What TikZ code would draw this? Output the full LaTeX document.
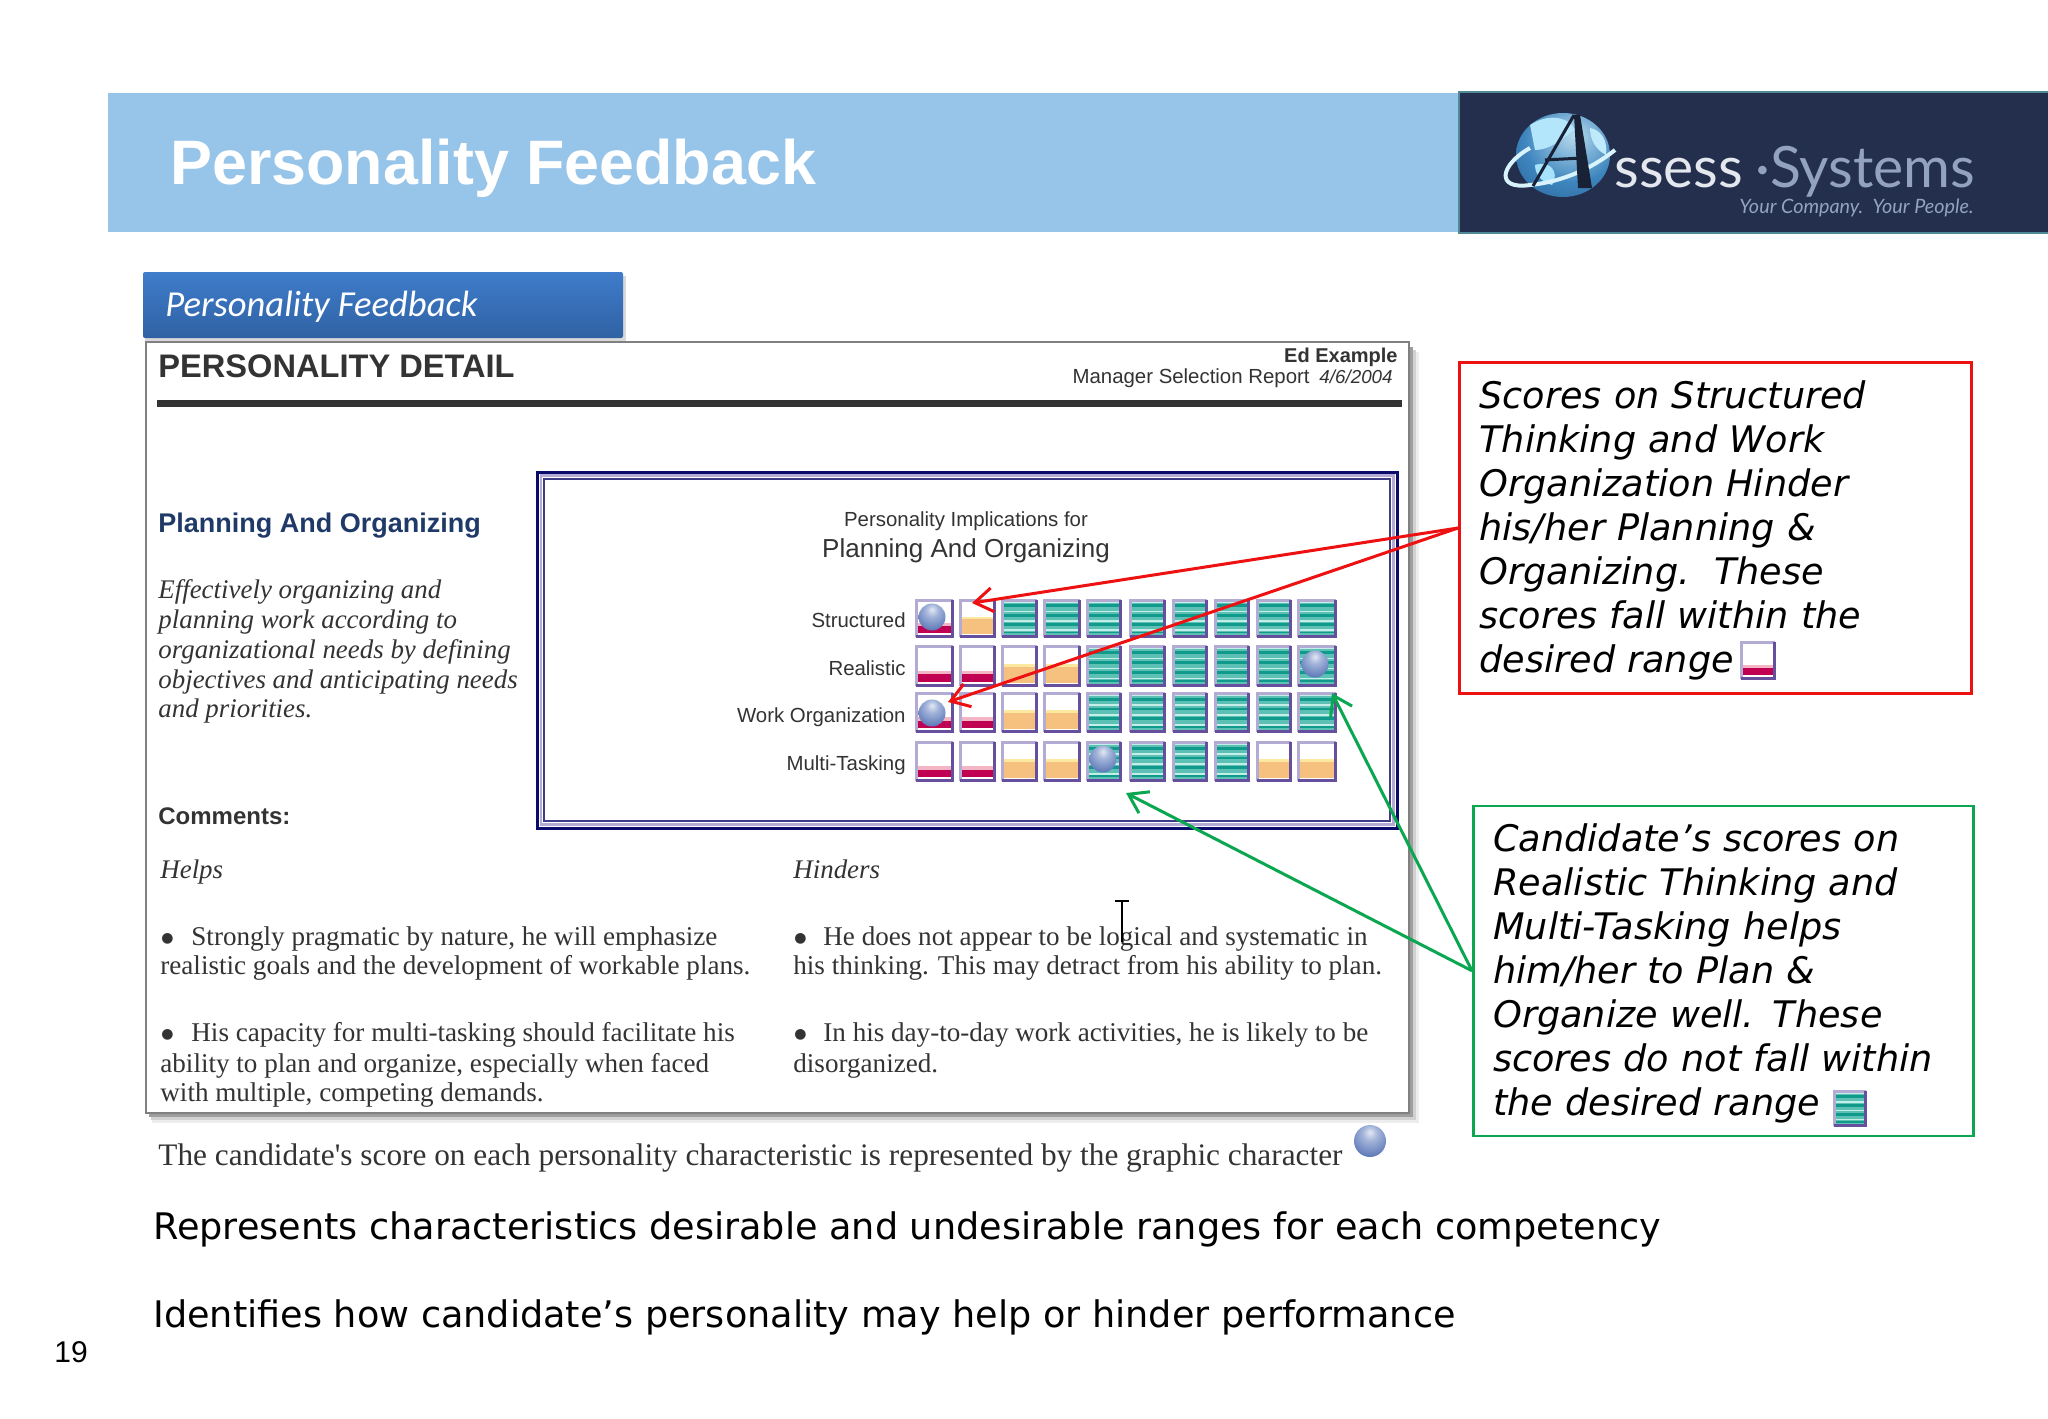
\documentclass[tikz,border=0pt]{standalone}
\usepackage{fontspec}
\usetikzlibrary{arrows.meta}
\setmainfont{Liberation Sans}
\newfontfamily\serifface{Liberation Serif}
\newfontfamily\callface{DejaVu Sans}
\newfontfamily\tabface{Carlito}
\newfontfamily\logoface{Lato}
\definecolor{headblue}{HTML}{97C4E9}
\definecolor{logonavy}{HTML}{242F4E}
\definecolor{logoedge}{HTML}{4F8A96}
\definecolor{tabtop}{HTML}{3F7CCB}
\definecolor{tabbot}{HTML}{2F62A3}
\definecolor{frameg}{HTML}{808080}
\definecolor{repink}{HTML}{333333}
\definecolor{navy}{HTML}{0B0B6B}
\definecolor{navytxt}{HTML}{1F3A68}
\definecolor{cellL}{HTML}{B3ABD3}
\definecolor{cellD}{HTML}{66509E}
\definecolor{crim}{HTML}{C00050}
\definecolor{crimL}{HTML}{F3B4C4}
\definecolor{oran}{HTML}{F6C07F}
\definecolor{oranL}{HTML}{FCE8A0}
\definecolor{tealD}{HTML}{0F9A8B}
\definecolor{tealM}{HTML}{5CC0B5}
\definecolor{tealL}{HTML}{C4EEE8}
\definecolor{redline}{HTML}{EE1111}
\definecolor{greenline}{HTML}{0AA650}
\definecolor{sysgrey}{HTML}{93A3BE}
\definecolor{ssesswhite}{HTML}{E4E8EE}
\definecolor{sphA}{HTML}{E2E8F4}
\definecolor{sphB}{HTML}{A3B4D9}
\definecolor{sphC}{HTML}{5673B4}
\definecolor{sphD}{HTML}{1B3576}
\definecolor{gloA}{HTML}{B9DCEE}
\definecolor{gloB}{HTML}{3F86BE}
\definecolor{gloC}{HTML}{174A80}
\pgfdeclareradialshading{sphereshade}{\pgfpoint{0bp}{14bp}}{
  color(0bp)=(sphA);
  color(12bp)=(sphB);
  color(36bp)=(sphC);
  color(58bp)=(sphD);
  color(100bp)=(sphD)}
\pgfdeclareradialshading{globeshade}{\pgfpoint{6bp}{12bp}}{
  color(0bp)=(gloA);
  color(25bp)=(gloB);
  color(58bp)=(gloC);
  color(100bp)=(gloC)}
\tikzset{
  rep/.style={inner sep=0pt,anchor=base west,text=repink,font=\serifface\fontsize{13.55}{16}\selectfont},
  repi/.style={rep,font=\serifface\itshape\fontsize{13.45}{16}\selectfont},
  dotted bullet/.style={rep,font=\callface\fontsize{7}{8}\selectfont},
  lab/.style={inner sep=0pt,anchor=base east,text=repink,font=\fontsize{10.2}{12}\selectfont},
  callout/.style={line width=1.5pt,fill=white,anchor=north west,align=left,inner ysep=0pt,inner xsep=0pt,
    font=\callface\itshape\fontsize{18.3}{22}\selectfont,text=black},
  arr/.style={line width=1.5pt,-{Straight Barb[length=9pt,width=12pt]}},
  bottomline/.style={inner sep=0pt,anchor=base west,text=black,font=\callface\fontsize{18.3}{22}\selectfont},
}
\newcommand{\bandR}{\fill[crimL] (8,62) rectangle (92,70);\fill[crim] (8,70) rectangle (92,88);}
\newcommand{\bandO}{\fill[oranL] (8,45) rectangle (92,52);\fill[oran] (8,52) rectangle (92,90);}
\newcommand{\bandT}{\fill[tealM] (8,5) rectangle (92,95);
  \foreach \yy in {14,38,62}{\fill[tealD] (8,\yy) rectangle (92,\yy+7);}
  \foreach \yy in {6,30,54,78}{\fill[tealL] (8,\yy) rectangle (92,\yy+4);}
  \fill[tealD] (8,84) rectangle (92,88);}
\newcommand{\scorecell}[5]{%
  \begin{scope}[shift={(#1,#3)},xscale={(#2-#1)/100},yscale={(#4-#3)/100}]
    \fill[white] (0,0) rectangle (100,100);
    \csname band#5\endcsname
    \draw[cellL,line width=1.5pt] (3,98) -- (3,3) -- (97,3);
    \draw[cellD,line width=1.7pt] (96,3) -- (96,96) -- (3,96);
  \end{scope}}
\newcommand{\ballat}[3]{\path[shading=sphereshade] (#1,#2) circle (#3);}
\begin{document}
\begin{tikzpicture}[x=0.5pt,y=-0.5pt]
\useasboundingbox (0,0) rectangle (2048,1418);
\fill[white] (0,0) rectangle (2048,1418);
% header
\fill[headblue] (108,93) rectangle (1460,232);
\node[inner sep=0pt,anchor=base west,text=white,font=\bfseries\fontsize{31.4}{36}\selectfont] (title) at (170,184) {Personality Feedback};
% logo
\fill[logonavy,draw=logoedge,line width=1pt] (1459,92) rectangle (2052,233);
\path[shading=globeshade] (1563,155) ellipse (47 and 42);
\fill[white!70!cyan] (1530,125) .. controls (1550,112) and (1570,118) .. (1575,130) .. controls (1560,140) and (1550,150) .. (1535,150) -- cycle;
\fill[white!75!cyan] (1590,128) .. controls (1602,130) and (1608,142) .. (1606,155) .. controls (1596,150) and (1590,140) .. (1590,128) -- cycle;
\fill[white!65!cyan] (1535,165) .. controls (1550,160) and (1560,172) .. (1552,185) .. controls (1542,182) and (1535,175) .. (1535,165) -- cycle;
\draw[white!85!cyan,line width=2pt] (1530,148) .. controls (1500,165) and (1495,190) .. (1530,185) .. controls (1560,182) and (1590,170) .. (1615,150);
\draw[logonavy!70!black,line width=1.5pt] (1533,186) -- (1574,115);
\fill[logonavy!70!black] (1574,115) -- (1580,115) -- (1592,188) -- (1578,188) -- cycle;
\draw[logonavy!70!black,line width=1.5pt] (1545,160) -- (1582,158);
\node[inner sep=0pt,anchor=base west,text=ssesswhite,font=\logoface\fontsize{28.5}{32}\selectfont] (logoa) at (1614,187) {ssess};
\node[inner sep=0pt,anchor=base west,text=sysgrey,font=\logoface\fontsize{28.5}{32}\selectfont] (logob) at (1755,187) {·Systems};
\node[inner sep=0pt,anchor=base east,text=sysgrey,font=\logoface\itshape\fontsize{9.9}{12}\selectfont] (logoc) at (1974,213) {Your Company.\ \ Your People.};
% report frame
\fill[black!7] (152,352) rectangle (1419,1123);
\fill[black!18] (151,350) rectangle (1416,1120);
\fill[black!38] (149,347) rectangle (1413,1117);
\fill[white,draw=frameg,line width=1.4pt] (146,342) rectangle (1409,1113);
% tab
\fill[black!15] (145,276) rectangle (626,341);
\shade[top color=tabtop,bottom color=tabbot,rounded corners=1pt] (143,272) rectangle (623,338);
\node[inner sep=0pt,anchor=base west,text=white,font=\tabface\itshape\fontsize{18.3}{20}\selectfont] (tab) at (165,316) {Personality Feedback};
% report head
\node[inner sep=0pt,anchor=base west,text=repink,font=\bfseries\fontsize{16.3}{18}\selectfont] (pd) at (158,377) {PERSONALITY DETAIL};
\fill[repink] (157,400) rectangle (1402,407);
\node[inner sep=0pt,anchor=base east,text=repink,font=\bfseries\fontsize{10}{12}\selectfont] (ed) at (1398,362) {Ed Example};
\node[inner sep=0pt,anchor=base east,text=repink,font=\fontsize{10.2}{12}\selectfont] (msr) at (1310,383) {Manager Selection Report};
\node[inner sep=0pt,anchor=base east,text=repink,font=\itshape\fontsize{9.4}{12}\selectfont] (date) at (1393,383) {4/6/2004};
% left column
\node[inner sep=0pt,anchor=base west,text=navytxt,font=\bfseries\fontsize{13.5}{16}\selectfont] (pao) at (158,532) {Planning And Organizing};
\node[repi] (p1) at (158,598) {Effectively organizing and};
\node[repi] (p2) at (158,628) {planning work according to};
\node[repi] (p3) at (158,658) {organizational needs by defining};
\node[repi] (p4) at (158,688) {objectives and anticipating needs};
\node[repi] (p5) at (158,717) {and priorities.};
% chart frame
\draw[navy,line width=1.5pt] (537.5,472) rectangle (1397,828);
\draw[cellL,line width=1.2pt] (541,475.5) rectangle (1393.5,824.5);
\draw[navy!80!white,line width=1pt] (544,479) rectangle (1390,821);
\node[inner sep=0pt,anchor=base,text=repink,font=\fontsize{10.2}{12}\selectfont] (pif) at (966,526) {Personality Implications for};
\node[inner sep=0pt,anchor=base,text=repink,font=\fontsize{13}{15}\selectfont] (paoc) at (966,557) {Planning And Organizing};
\node[lab] (r1) at (906,627) {Structured};
\node[lab] (r2) at (906,675) {Realistic};
\node[lab] (r3) at (906,722) {Work Organization};
\node[lab] (r4) at (906,770) {Multi-Tasking};
% grid
\foreach \xa/\xb [count=\c] in {915/954,959/996,1001/1038,1043/1081,1086/1122,1129/1166,1172/1208,1214/1250,1256/1292,1297/1337}{
  \ifnum\c=1 \scorecell{\xa}{\xb}{599}{638}{R}\scorecell{\xa}{\xb}{645}{687}{R}\scorecell{\xa}{\xb}{692}{733}{R}\scorecell{\xa}{\xb}{741}{782}{R}\fi
  \ifnum\c=2 \scorecell{\xa}{\xb}{599}{638}{O}\scorecell{\xa}{\xb}{645}{687}{R}\scorecell{\xa}{\xb}{692}{733}{R}\scorecell{\xa}{\xb}{741}{782}{R}\fi
  \ifnum\c>2 \ifnum\c<5 \scorecell{\xa}{\xb}{599}{638}{T}\scorecell{\xa}{\xb}{645}{687}{O}\scorecell{\xa}{\xb}{692}{733}{O}\scorecell{\xa}{\xb}{741}{782}{O}\fi\fi
  \ifnum\c>4 \scorecell{\xa}{\xb}{599}{638}{T}\scorecell{\xa}{\xb}{645}{687}{T}\scorecell{\xa}{\xb}{692}{733}{T}\ifnum\c<9 \scorecell{\xa}{\xb}{741}{782}{T}\else\scorecell{\xa}{\xb}{741}{782}{O}\fi\fi
}
\ballat{932}{617}{13.5}
\ballat{1315}{664}{13.5}
\ballat{932}{713}{13.5}
\ballat{1103}{759}{13.5}
% comments
\node[inner sep=0pt,anchor=base west,text=repink,font=\bfseries\fontsize{12}{14}\selectfont] (cm) at (158,824) {Comments:};
\node[repi] (hl) at (160,878) {Helps};
\node[repi] (hn) at (793,878) {Hinders};
\node[dotted bullet] (a0) at (161,942) {●};
\node[rep] (a1) at (191,945) {Strongly pragmatic by nature, he will emphasize};
\node[rep] (a2) at (160,974) {realistic goals and the development of workable plans.};
\node[dotted bullet] (b0) at (161,1038) {●};
\node[rep] (b1) at (191,1041) {His capacity for multi-tasking should facilitate his};
\node[rep] (b2) at (160,1072) {ability to plan and organize, especially when faced};
\node[rep] (b3) at (160,1101) {with multiple, competing demands.};
\node[dotted bullet] (c0) at (794,942) {●};
\node[rep] (c1) at (823,945) {He does not appear to be logical and systematic in};
\node[rep] (c2) at (793,974) {his thinking. This may detract from his ability to plan.};
\node[dotted bullet] (d0) at (794,1038) {●};
\node[rep] (d1) at (823,1041) {In his day-to-day work activities, he is likely to be};
\node[rep] (d2) at (793,1072) {disorganized.};
% cursor
\draw[black,line width=1pt] (1122,901) -- (1122,942);
\draw[black,line width=1pt] (1115,901) -- (1129,901);
% caption
\node[rep,font=\serifface\fontsize{15.65}{18}\selectfont] (cap) at (158,1165) {The candidate's score on each personality characteristic is represented by the graphic character};
\ballat{1370}{1141}{16}
% bottom lines
\node[bottomline] (l1) at (153,1239) {Represents characteristics desirable and undesirable ranges for each competency};
\node[bottomline] (l2) at (153,1327) {Identifies how candidate’s personality may help or hinder performance};
\node[inner sep=0pt,anchor=base west,text=black,font=\fontsize{15}{18}\selectfont] (pg) at (54,1362) {19};
% callouts
\node[callout,draw=redline,minimum width=256pt,minimum height=165.5pt,text width=236pt] (redbox) at (1458,361)
 {\rule{0pt}{16pt}Scores on Structured\\Thinking and Work\\Organization Hinder\\his/her Planning \&\\Organizing.\ \ These\\scores fall within the\\desired range};
\node[callout,draw=greenline,minimum width=250pt,minimum height=165pt,text width=230pt,line width=1.3pt] (greenbox) at (1472,804.5)
 {\rule{0pt}{16pt}Candidate’s scores on\\Realistic Thinking and\\Multi-Tasking helps\\him/her to Plan \&\\Organize well. These\\scores do not fall within\\the desired range};
\scorecell{1740}{1776}{641}{680}{R}
\scorecell{1833}{1867}{1090}{1127}{T}
% connectors
\coordinate (t1) at (972,603);
\coordinate (t2) at (948,702);
\coordinate (t3) at (1126,793);
\coordinate (t4) at (1332,693);
\draw[arr,redline] (redbox.west) -- (t1);
\draw[arr,redline] (redbox.west) -- (t2);
\draw[arr,greenline] (greenbox.west) -- (t3);
\draw[arr,greenline] (greenbox.west) -- (t4);
\end{tikzpicture}
\end{document}
